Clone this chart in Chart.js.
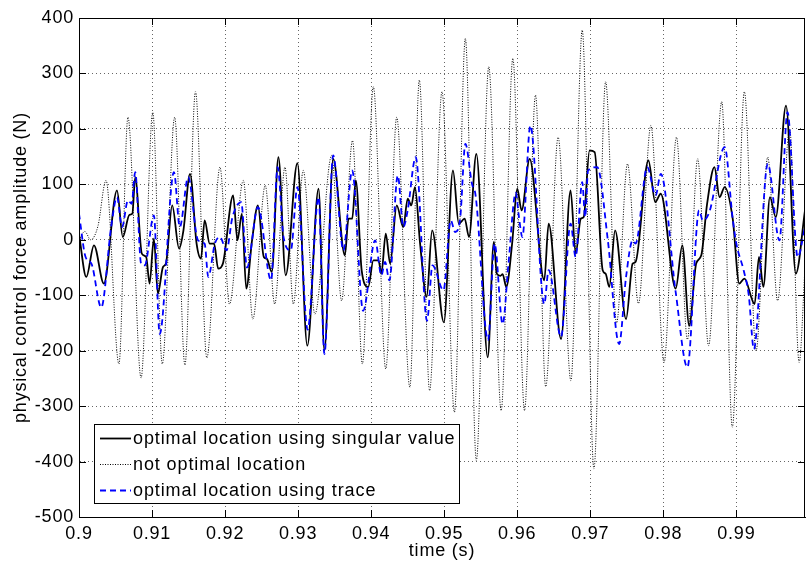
<!DOCTYPE html>
<html><head><meta charset="utf-8">
<script src="https://cdn.jsdelivr.net/npm/chart.js@4.4.1/dist/chart.umd.min.js"></script>
<style>html,body{margin:0;padding:0;background:#fff;}#wrap{width:806px;height:563px;}</style>
</head><body><div id="wrap"><canvas id="c" width="806" height="563"></canvas></div>
<script>
// ---- axis ticks ----
const xTicks = [0.9,0.91,0.92,0.93,0.94,0.95,0.96,0.97,0.98,0.99];
const yTicks = [-500,-400,-300,-200,-100,0,100,200,300,400];

// ---- series 1: optimal location using singular value (time s, force N) ----
const svTime = [0.9000,0.9010,0.90205,0.9034,0.9052,0.9060,0.9069,0.9073,0.9077,0.9086,0.9092,0.90966,0.91025,0.9108,0.9115,0.9119,0.91276,0.9137,0.9143,0.9152,0.9161,0.9167,0.9172,0.9179,0.9185,0.91905,0.9197,0.9211,0.9217,0.9223,0.9229,0.9237,0.9245,0.9253,0.9257,0.9264,0.9273,0.9283,0.9299,0.93126,0.9328,0.9336,0.9348,0.9364,0.9369,0.9374,0.9379,0.9387,0.9396,0.9403,0.9410,0.9414,0.9420,0.9426,0.9435,0.9444,0.9450,0.9455,0.9460,0.9467,0.9476,0.94835,0.94995,0.9512,0.9520,0.9528,0.9534,0.9544,0.95596,0.9568,0.9572,0.9577,0.9580,0.9585,0.9593,0.9600,0.9606,0.9617,0.9637,0.9643,0.9660,0.9673,0.9680,0.9687,0.9691,0.9699,0.9706,0.9717,0.9721,0.9726,0.9734,0.9749,0.9758,0.9762,0.97796,0.9789,0.97965,0.9817,0.9826,0.98355,0.9845,0.9852,0.9860,0.9870,0.9877,0.9884,0.9895,0.9904,0.9911,0.9925,0.9931,0.9937,0.9946,0.9954,0.9968,0.99815,0.9994];
const svForce = [10,-67,-10,-79,89,5,45,47,113,-25,-31,-79,2,-97,-49,-43,62,-16,17,119,-7,-34,35,-7,-7,-52,-43,80,-1,47,-88,0,62,-31,-34,-58,149,-64,138,-191,92,-200,146,-28,38,38,107,-55,-85,-37,-37,-61,11,-43,62,23,74,62,95,-7,-103,17,-149,125,29,38,5,155,-212,-4,-61,-65,-62,-85,-7,92,53,146,-73,29,-179,89,-25,38,41,161,158,-55,-61,-85,17,-143,-43,-40,143,68,83,-88,-10,-155,-43,-28,65,131,77,95,38,-79,-70,-116,-31,-85,77,41,242,-61,53];

// ---- series 2: not optimal location ----
const notTime = [0.9000,0.9008,0.9016,0.9026,0.9037,0.90547,0.9067,0.9085,0.9101,0.9114,0.9131,0.9145,0.91595,0.9175,0.9193,0.9206,0.9225,0.9238,0.9255,0.9268,0.9282,0.92935,0.9307,0.9323,0.9346,0.93595,0.93745,0.9388,0.9403,0.9420,0.9435,0.9453,0.9466,0.9480,0.9497,0.9514,0.9529,0.9544,0.9561,0.9578,0.9594,0.9610,0.9625,0.9639,0.9656,0.96735,0.9689,0.9705,0.9721,0.9736,0.9751,0.9766,0.9783,0.9801,0.9818,0.9833,0.9847,0.9862,0.9880,0.98945,0.9911,0.9927,0.9943,0.99565,0.9973,0.9986,0.9994];
const notForce = [0,15,0,25,107,-224,221,-249,230,-224,221,-226,267,-213,131,-116,107,-143,98,-116,131,-116,125,-134,152,-110,179,-224,276,-233,221,-266,288,-272,267,-311,363,-398,312,-308,327,-308,261,-265,185,-254,378,-413,285,-150,137,-115,206,-221,185,-180,146,-191,249,-338,267,-200,149,-110,200,-221,-50];

// ---- series 3: optimal location using trace ----
const trTime = [0.9000,0.9009,0.9017,0.90305,0.9044,0.9052,0.9059,0.9067,0.9072,0.9077,0.9085,0.9090,0.91025,0.91105,0.9130,0.9138,0.91495,0.9163,0.9172,0.9177,0.9186,0.9193,0.9202,0.9210,0.9222,0.9230,0.9245,0.9263,0.9272,0.9280,0.9290,0.9299,0.9313,0.9328,0.9336,0.9348,0.9362,0.9374,0.9389,0.94055,0.9414,0.9419,0.9425,0.94365,0.9444,0.9450,0.9461,0.94765,0.9484,0.9499,0.9509,0.9515,0.9522,0.9529,0.9538,0.9543,0.9560,0.9569,0.9580,0.9588,0.9598,0.9602,0.9607,0.9618,0.9637,0.9643,0.9660,0.9673,0.9680,0.9689,0.9693,0.9697,0.97095,0.9724,0.97395,0.9749,0.9758,0.9762,0.9778,0.97895,0.97965,0.9817,0.9833,0.9849,0.9854,0.9863,0.9884,0.9895,0.9900,0.9910,0.9917,0.9924,0.9943,0.9959,0.9970,0.9984,0.9994];
const trForce = [47,-31,-43,-122,23,77,23,71,65,122,-43,-46,44,-170,122,23,113,-1,-7,-67,-7,5,-19,40,68,-50,59,-73,131,5,-19,95,-162,77,-206,152,-19,125,-128,-1,-64,-40,-73,116,23,53,149,-146,-46,-91,35,14,40,173,101,80,-181,-7,-152,-43,85,45,5,206,-116,-55,-175,29,-31,104,41,125,131,0,-188,-67,-1,-7,131,80,119,-95,-230,53,35,50,167,38,-7,-55,-100,-197,137,-1,230,-31,23];

const labels = ['optimal location using singular value','not optimal location','optimal location using trace'];
const xLabel = 'time (s)';
const yLabel = 'physical control force amplitude (N)';

const FONT = '"Liberation Sans", Arial, Helvetica, sans-serif';
const FS = 18;
const pairs = (t, v) => t.map((x, i) => ({x: x, y: v[i]}));

const framePlugin = {
  id: 'frame',
  beforeDraw(chart) { chart.ctx.letterSpacing = '0.8px'; },
  afterDatasetsDraw(chart) {
    const ctx = chart.ctx, a = chart.chartArea;
    const xs = chart.scales.x, ys = chart.scales.y;
    ctx.save();
    ctx.strokeStyle = '#000'; ctx.lineWidth = 1; ctx.setLineDash([]);
    ctx.strokeRect(Math.round(a.left) + 0.5, Math.round(a.top) + 0.5, Math.round(a.right - a.left) - 1, Math.round(a.bottom - a.top));
    const L = 7;
    ctx.beginPath();
    xTicks.forEach(v => {
      const px = Math.round(xs.getPixelForValue(v)) + 0.5;
      ctx.moveTo(px, a.bottom); ctx.lineTo(px, a.bottom - L);
      ctx.moveTo(px, a.top); ctx.lineTo(px, a.top + L);
    });
    yTicks.forEach(v => {
      const py = Math.round(ys.getPixelForValue(v)) + 0.5;
      ctx.moveTo(a.left, py); ctx.lineTo(a.left + L, py);
      ctx.moveTo(a.right, py); ctx.lineTo(a.right - L, py);
    });
    ctx.stroke();
    // legend
    const bx = 94.5, by = 424.5, bw = 365, bh = 79;
    ctx.fillStyle = '#fff';
    ctx.fillRect(bx, by, bw, bh);
    ctx.strokeStyle = '#000';
    ctx.strokeRect(bx, by, bw, bh);
    const rows = [438, 464, 490];
    const styles = [
      {c: '#000', w: 1.8, d: []},
      {c: '#000', w: 1, d: [1, 1.5]},
      {c: '#0000ff', w: 1.8, d: [6, 4]}
    ];
    ctx.font = FS + 'px ' + FONT;
    ctx.letterSpacing = '0.9px';
    ctx.textBaseline = 'middle';
    ctx.textAlign = 'left';
    rows.forEach((y, i) => {
      const s = styles[i];
      ctx.save();
      ctx.strokeStyle = s.c; ctx.lineWidth = s.w; ctx.setLineDash(s.d);
      ctx.beginPath(); ctx.moveTo(100, y + 0.5); ctx.lineTo(131, y + 0.5); ctx.stroke();
      ctx.restore();
      ctx.fillStyle = '#000';
      ctx.fillText(labels[i], 133, y + 1);
    });
    ctx.restore();
  }
};

new Chart(document.getElementById('c'), {
  type: 'line',
  data: {
    datasets: [
      {label: labels[0], data: pairs(svTime, svForce), borderColor: '#000', borderWidth: 1.8, order: 1},
      {label: labels[1], data: pairs(notTime, notForce), borderColor: '#000', borderWidth: 1, borderDash: [1, 1.5], order: 2},
      {label: labels[2], data: pairs(trTime, trForce), borderColor: '#0000ff', borderWidth: 1.8, borderDash: [6, 4], order: 0}
    ]
  },
  options: {
    responsive: false,
    animation: false,
    devicePixelRatio: 1,
    layout: {padding: {left: 0, right: 1, top: 18, bottom: 0}},
    elements: {point: {radius: 0}, line: {cubicInterpolationMode: 'monotone', fill: false}},
    plugins: {legend: {display: false}, tooltip: {enabled: false}},
    scales: {
      x: {
        type: 'linear', min: 0.9, max: 0.9994,
        afterBuildTicks: s => { s.ticks = xTicks.map(v => ({value: v})); },
        afterFit: s => { s.height = 46; },
        ticks: {callback: v => String(Number(v.toFixed(2))), color: '#000', font: {family: FONT, size: FS}, padding: 6, maxRotation: 0, autoSkip: false},
        grid: {color: 'rgba(0,0,0,0.6)', drawTicks: false, lineWidth: 1},
        border: {display: true, color: '#000', dash: [1, 3]},
        title: {display: true, text: xLabel, color: '#000', font: {family: FONT, size: FS}, padding: {top: 0, bottom: 1}}
      },
      y: {
        type: 'linear', min: -500, max: 400,
        afterBuildTicks: s => { s.ticks = yTicks.map(v => ({value: v})); },
        afterFit: s => { s.width = 79; },
        ticks: {color: '#000', font: {family: FONT, size: FS}, padding: 5},
        grid: {color: 'rgba(0,0,0,0.6)', drawTicks: false, lineWidth: 1},
        border: {display: true, color: '#000', dash: [1, 3]},
        title: {display: true, text: yLabel, color: '#000', font: {family: FONT, size: FS}, padding: {top: 10, bottom: 0}}
      }
    }
  },
  plugins: [framePlugin]
});
</script>
</body></html>
